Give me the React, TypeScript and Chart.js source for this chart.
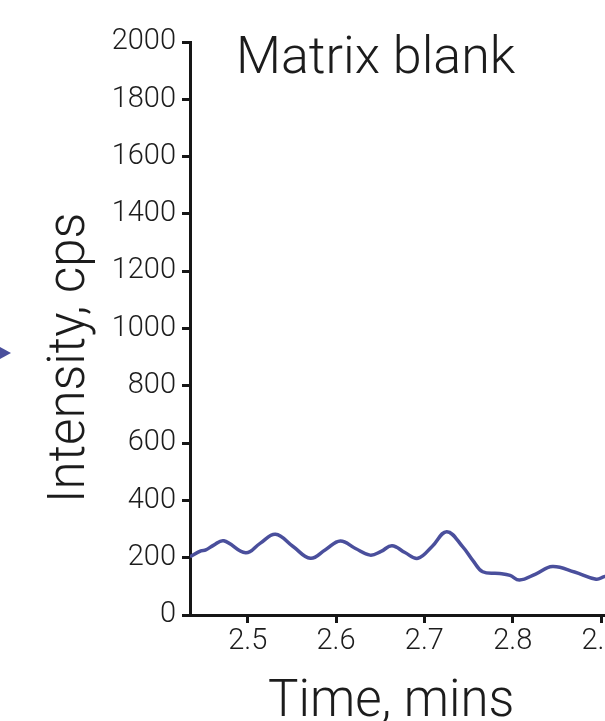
import React, { useEffect, useRef } from "react";
import { Chart, registerables } from "chart.js";

Chart.register(...registerables);

// ---- Data ----
const TIME = [
  2.4347, 2.447, 2.4526, 2.4616, 2.4729, 2.4977, 2.514, 2.5315, 2.551, 2.571,
  2.588, 2.6048, 2.622, 2.6386, 2.651, 2.6634, 2.678, 2.6927, 2.709, 2.7254,
  2.7435, 2.755, 2.766, 2.7852, 2.797, 2.8077, 2.826, 2.8449, 2.87, 2.8945,
  2.9036, 2.925,
];
const INTENSITY = [
  203, 224, 227, 244, 259, 217, 250, 282, 240, 198,
  228, 258, 232, 209, 222, 242, 218, 198, 240, 291,
  238, 190, 151, 145, 138, 122, 143, 169, 150, 125,
  134, 150,
];
const X_TICKS = [2.5, 2.6, 2.7, 2.8, 2.9];
const Y_TICKS = [0, 200, 400, 600, 800, 1000, 1200, 1400, 1600, 1800, 2000];
const X_MIN = 2.4347;
const X_MAX = 2.9441;
const Y_MIN = 0;
const Y_MAX = 2000;

const TITLE = "Matrix blank";
const X_TITLE = "Time, mins";
const Y_TITLE = "Intensity, cps";

const LINE_COLOR = "#4a4f9c";
const AXIS_COLOR = "#161616";
const TEXT_COLOR = "#1c1c1c";
const FONT_FAMILY = "Roboto, 'Noto Sans', sans-serif";

const decorPlugin = {
  id: "decor",
  afterDraw(chart: any) {
    const ctx = chart.ctx as CanvasRenderingContext2D;
    ctx.save();
    ctx.fillStyle = TEXT_COLOR;
    ctx.textAlign = "left";
    ctx.textBaseline = "alphabetic";
    // main title
    ctx.font = `300 52px ${FONT_FAMILY}`;
    ctx.fillText(TITLE, 236, 73);
    // x title
    ctx.font = `300 51px ${FONT_FAMILY}`;
    ctx.fillText(X_TITLE, 268, 716);
    // y title
    ctx.translate(84, 503);
    ctx.rotate(-Math.PI / 2);
    ctx.font = `300 51px ${FONT_FAMILY}`;
    ctx.fillText(Y_TITLE, 0, 0);
    ctx.restore();

    // arrow marker at left edge
    ctx.save();
    ctx.fillStyle = LINE_COLOR;
    ctx.beginPath();
    ctx.moveTo(-7, 343);
    ctx.lineTo(11, 353);
    ctx.lineTo(-7, 363);
    ctx.closePath();
    ctx.fill();
    ctx.restore();
  },
};

export default function App() {
  const ref = useRef<HTMLCanvasElement>(null);

  useEffect(() => {
    const points = TIME.map((t, i) => ({ x: t, y: INTENSITY[i] }));
    const tickFont = { family: FONT_FAMILY, size: 29, weight: 300 as any };
    const chart = new Chart(ref.current!, {
      type: "line",
      data: {
        datasets: [
          {
            data: points,
            borderColor: LINE_COLOR,
            borderWidth: 3.5,
            pointRadius: 0,
            fill: false,
            tension: 0.4,
          },
        ],
      },
      options: {
        animation: false,
        responsive: false,
        devicePixelRatio: 1,
        events: [],
        layout: { padding: { top: 42, left: 0, right: 20, bottom: 0 } },
        plugins: {
          legend: { display: false },
          tooltip: { enabled: false },
          title: { display: false },
        },
        scales: {
          x: {
            type: "linear",
            min: X_MIN,
            max: X_MAX,
            afterBuildTicks: (s: any) => {
              s.ticks = X_TICKS.map((v) => ({ value: v }));
            },
            afterFit: (s: any) => {
              s.height = 106;
            },
            ticks: {
              autoSkip: false,
              maxRotation: 0,
              padding: 1,
              color: TEXT_COLOR,
              font: tickFont,
              callback: (v: any) => Number(v).toFixed(1),
            },
            grid: {
              drawOnChartArea: false,
              drawTicks: true,
              tickLength: 8,
              tickWidth: 3,
              color: AXIS_COLOR,
            },
            border: { display: true, color: AXIS_COLOR, width: 3 },
          },
          y: {
            type: "linear",
            min: Y_MIN,
            max: Y_MAX,
            afterBuildTicks: (s: any) => {
              s.ticks = Y_TICKS.map((v) => ({ value: v }));
            },
            afterFit: (s: any) => {
              s.width = 190;
            },
            ticks: {
              autoSkip: false,
              padding: 6,
              color: TEXT_COLOR,
              font: tickFont,
              callback: (v: any) => String(v),
            },
            grid: {
              drawOnChartArea: false,
              drawTicks: true,
              tickLength: 8,
              tickWidth: 3,
              color: AXIS_COLOR,
            },
            border: { display: true, color: AXIS_COLOR, width: 3 },
          },
        },
      },
      plugins: [decorPlugin],
    });
    return () => chart.destroy();
  }, []);

  return (
    <div
      style={{
        position: "fixed",
        left: 0,
        top: 0,
        width: 605,
        height: 721,
        overflow: "hidden",
        background: "#fff",
      }}
    >
      <canvas
        ref={ref}
        width={660}
        height={721}
        style={{ display: "block", width: 660, height: 721 }}
      />
    </div>
  );
}
